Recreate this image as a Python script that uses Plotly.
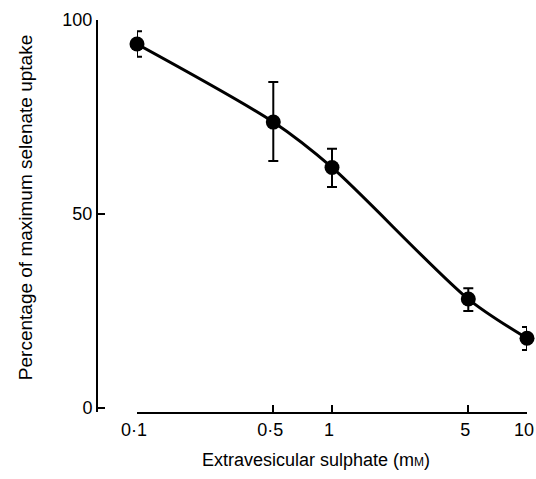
import plotly.graph_objects as go
import math

sulphate_mM = [0.1, 0.5, 1, 5, 10]
uptake_pct = [93.8, 73.7, 62.0, 28.1, 18.0]
err_plus = [3.3, 10.3, 4.8, 2.8, 2.9]
err_minus = [3.3, 10.0, 5.0, 3.1, 3.0]

x_tickvals = [0.1, 0.5, 1, 5, 10]
x_ticktext = ["0·1", "0·5", "1", "5", "10"]
y_tickvals = [0, 50, 100]
y_ticktext = ["0", "50", "100"]

FONT = "Liberation Sans, Arial, Helvetica, sans-serif"

fig = go.Figure()
fig.add_trace(go.Scatter(
    x=sulphate_mM, y=uptake_pct,
    mode="lines+markers",
    line=dict(color="black", width=3, shape="spline", smoothing=0.8),
    marker=dict(color="black", size=15, symbol="circle"),
    error_y=dict(type="data", symmetric=False, array=err_plus, arrayminus=err_minus,
                 color="black", thickness=2, width=5),
    cliponaxis=False,
    showlegend=False,
))

fig.update_layout(
    width=536, height=479,
    margin=dict(l=97, r=9, t=20, b=67, autoexpand=False),
    paper_bgcolor="white", plot_bgcolor="white",
    font=dict(family=FONT, color="black"),
    xaxis=dict(
        type="log", domain=[0.093, 1],
        range=[math.log10(0.1), math.log10(10)],
        tickvals=x_tickvals, ticktext=x_ticktext,
        ticks="inside", ticklen=7, tickwidth=2, tickcolor="black",
        showline=True, linecolor="black", linewidth=2,
        showgrid=False, zeroline=False,
        tickfont=dict(size=18, family=FONT),
        ticklabeloverflow="allow", automargin=False,
        ticklabelshift=-3,
        anchor="y",
    ),
    yaxis=dict(
        range=[-1, 100],
        tickvals=y_tickvals, ticktext=y_ticktext,
        ticks="inside", ticklen=7, tickwidth=2, tickcolor="black",
        showline=True, linecolor="black", linewidth=2,
        showgrid=False, zeroline=False,
        tickfont=dict(size=18, family=FONT),
        ticklabeloverflow="allow", automargin=False,
        anchor="free", position=0,
    ),
    annotations=[
        dict(text="Extravesicular sulphate (m<span style='font-size:12px'>M</span>)",
             xref="paper", yref="paper", x=0.51, y=0, yshift=-48,
             xanchor="center", yanchor="middle", showarrow=False,
             font=dict(size=18, family=FONT)),
        dict(text="Percentage of maximum selenate uptake",
             xref="paper", yref="paper", x=0, xshift=-72, y=0.52,
             xanchor="center", yanchor="middle", textangle=-90, showarrow=False,
             font=dict(size=19, family=FONT)),
    ],
)

fig.write_html("out.html")
